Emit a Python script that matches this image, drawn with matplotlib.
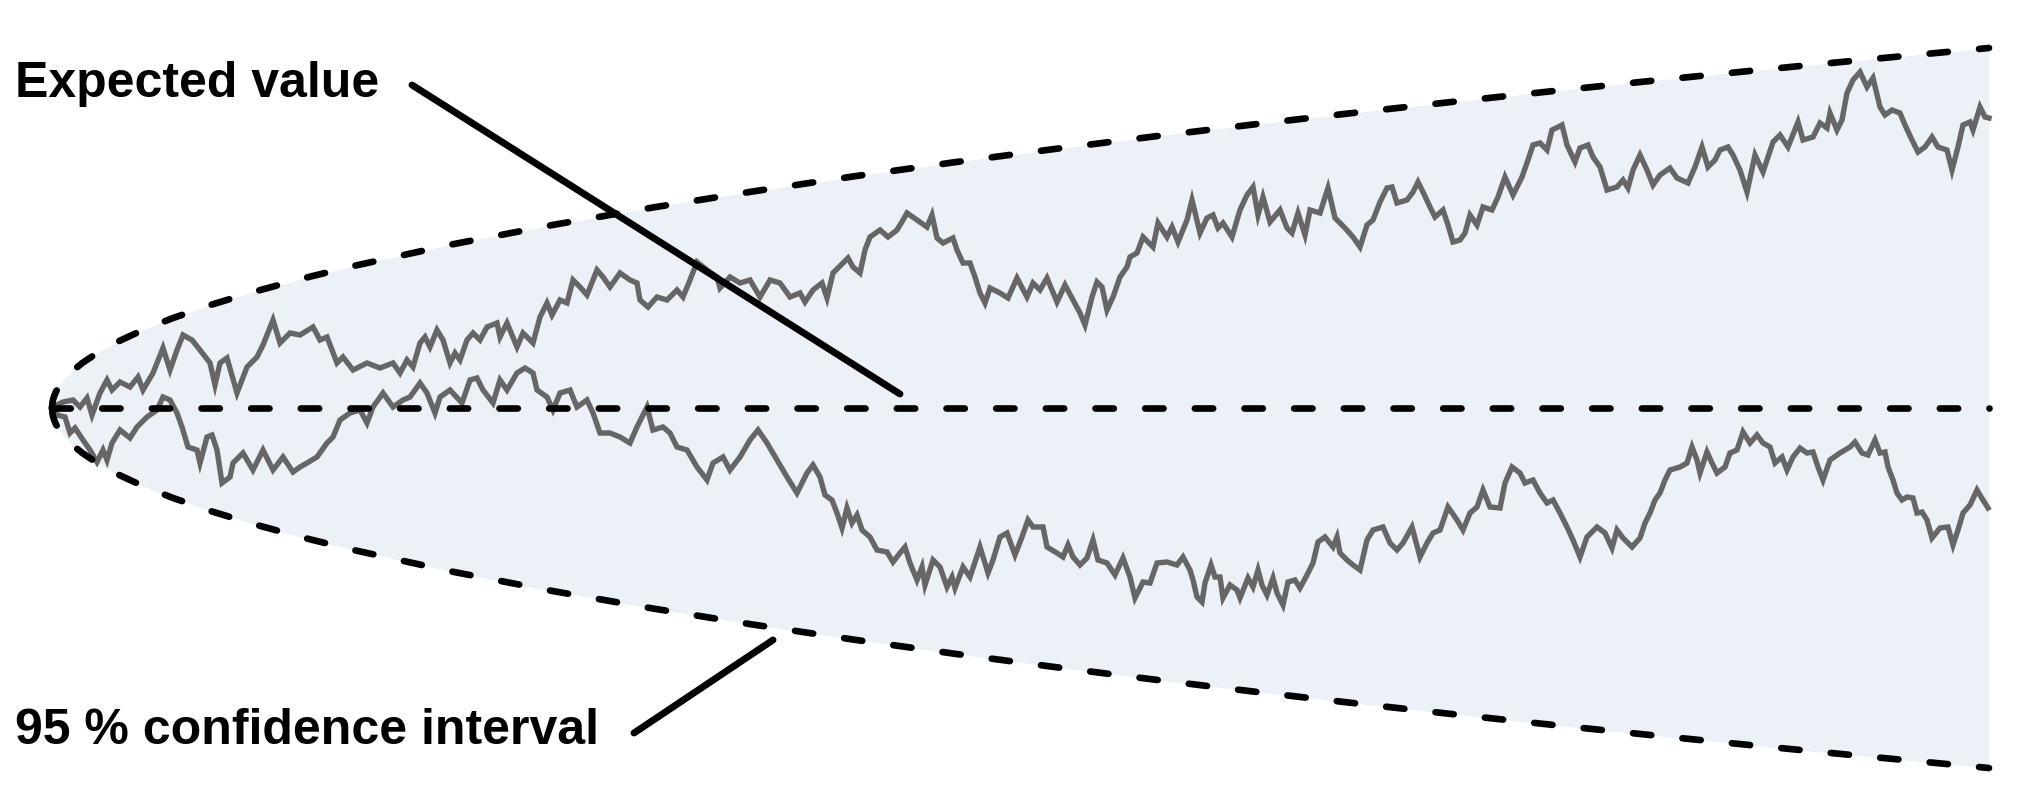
import matplotlib
matplotlib.use("Agg")
import matplotlib.pyplot as plt

# ---------------- data (time steps, value) ----------------
ci_t = [0, 0.5, 1, 2, 4, 7, 12, 20, 30, 45, 65, 90, 120, 160, 200, 250, 300, 400,
        500, 600, 700, 800, 900, 1000, 1100, 1200, 1300, 1400, 1500, 1600, 1700, 1800, 1937]
ci_upper = [0, 0.578, 0.818, 1.157, 1.636, 2.164, 2.834, 3.658, 4.480, 5.487, 6.595, 7.760,
            8.961, 10.347, 11.568, 12.934, 14.168, 16.360, 18.291, 20.037, 21.642, 23.137,
            24.540, 25.868, 27.130, 28.336, 29.493, 30.607, 31.681, 32.720, 33.727, 34.705, 36.001]
ci_lower = [0, -0.578, -0.818, -1.157, -1.636, -2.164, -2.834, -3.658, -4.480, -5.487, -6.595, -7.760,
            -8.961, -10.347, -11.568, -12.934, -14.168, -16.360, -18.291, -20.037, -21.642, -23.137,
            -24.540, -25.868, -27.130, -28.336, -29.493, -30.607, -31.681, -32.720, -33.727, -34.705, -36.001]
expected_t = [0, 1937]
expected_v = [0, 0]

path_a_t = [0, 1, 11, 21, 28, 35, 40, 48, 55, 60, 68, 78, 86, 91, 101, 111, 118, 125, 131, 140,
            148, 158, 163, 168, 175, 185, 195, 205, 211, 221, 228, 238, 248, 261, 268, 275, 285,
            291, 301, 315, 328, 341, 348, 355, 361, 368, 373, 378, 385, 391, 398, 403, 408, 415,
            421, 428, 435, 445, 448, 455, 465, 471, 481, 488, 495, 500, 508, 515, 521, 528, 535,
            545, 551, 558, 568, 578, 585, 588, 596, 605, 615, 625, 631, 638, 645, 655, 665, 668,
            678, 688, 698, 708, 718, 728, 738, 748, 753, 761, 770, 775, 781, 791, 796, 801, 808,
            813, 818, 828, 836, 845, 851, 855, 865, 875, 880, 885, 891, 901, 905, 911, 918, 923,
            928, 933, 938, 948, 956, 965, 975, 981, 988, 995, 1005, 1013, 1021, 1028, 1033, 1040,
            1045, 1050, 1055, 1061, 1068, 1075, 1078, 1085, 1091, 1101, 1106, 1115, 1120, 1126,
            1135, 1140, 1148, 1155, 1161, 1166, 1171, 1180, 1188, 1195, 1201, 1206, 1211, 1218,
            1228, 1235, 1240, 1246, 1253, 1258, 1268, 1276, 1283, 1293, 1301, 1308, 1315, 1321,
            1328, 1335, 1340, 1345, 1355, 1361, 1366, 1371, 1378, 1383, 1391, 1396, 1401, 1408,
            1413, 1418, 1425, 1431, 1440, 1446, 1453, 1461, 1470, 1476, 1481, 1488, 1495, 1500,
            1510, 1515, 1523, 1528, 1536, 1541, 1548, 1555, 1565, 1571, 1576, 1581, 1588, 1595,
            1601, 1608, 1618, 1625, 1636, 1643, 1650, 1656, 1663, 1668, 1676, 1681, 1688, 1695,
            1703, 1711, 1716, 1721, 1728, 1736, 1746, 1751, 1761, 1768, 1775, 1778, 1785, 1790,
            1795, 1801, 1808, 1815, 1821, 1828, 1833, 1840, 1848, 1853, 1860, 1866, 1873, 1880,
            1886, 1895, 1900, 1906, 1911, 1918, 1921, 1928, 1933, 1937]
path_a_v = [0.0, 0.1, 0.6, 0.8, 0.1, 1.0, -0.7, 1.5, 2.8, 1.8, 2.6, 2.1, 3.1, 1.8, 3.5, 6.0, 3.8,
            5.8, 7.3, 6.8, 5.8, 4.5, 2.3, 4.5, 5.0, 1.5, 4.1, 5.1, 6.3, 8.8, 6.5, 7.5, 7.3, 8.1,
            6.8, 7.1, 4.5, 5.1, 3.8, 4.5, 4.0, 4.5, 3.5, 4.8, 4.1, 6.5, 7.1, 6.1, 7.8, 6.8, 4.5,
            5.5, 4.8, 6.8, 7.5, 6.8, 8.1, 8.5, 7.1, 8.5, 6.1, 7.5, 6.5, 9.1, 10.5, 9.3, 10.8,
            10.5, 12.8, 12.1, 11.3, 13.8, 13.1, 12.1, 13.5, 12.8, 12.5, 10.8, 10.1, 11.1, 10.8,
            11.8, 11.1, 12.8, 14.6, 13.8, 13.1, 12.0, 13.1, 12.5, 12.8, 11.1, 12.8, 12.5, 11.1,
            11.5, 10.6, 11.8, 12.5, 11.0, 13.5, 14.5, 15.0, 14.1, 13.5, 15.8, 17.1, 17.8, 17.1,
            17.8, 18.8, 19.5, 18.8, 18.1, 19.3, 17.0, 16.5, 17.0, 15.8, 14.5, 14.5, 13.1, 11.5,
            10.5, 12.0, 11.5, 11.0, 13.0, 11.1, 12.5, 11.8, 13.0, 10.6, 12.3, 10.8, 9.5, 8.3,
            11.1, 12.6, 12.1, 9.8, 11.1, 13.1, 14.1, 15.1, 15.5, 17.1, 16.1, 18.5, 17.1, 18.1,
            16.6, 18.8, 20.8, 17.5, 19.0, 19.3, 18.0, 18.5, 17.1, 19.8, 21.3, 22.1, 19.3, 21.1,
            18.6, 19.8, 18.0, 17.5, 19.5, 17.3, 19.8, 19.5, 22.0, 19.0, 18.0, 17.1, 16.1, 18.3,
            18.8, 20.6, 22.0, 22.1, 20.5, 20.8, 21.6, 22.6, 21.6, 20.1, 19.1, 19.8, 18.3, 16.6,
            16.8, 17.5, 19.3, 18.3, 20.1, 19.8, 21.1, 23.1, 21.3, 23.1, 24.8, 26.3, 26.5, 25.8,
            27.8, 28.3, 26.3, 24.6, 26.0, 26.3, 25.1, 24.1, 21.8, 22.1, 22.8, 22.0, 23.8, 25.3,
            23.8, 22.3, 23.3, 24.0, 23.0, 22.5, 24.1, 26.1, 24.1, 24.8, 25.8, 26.1, 25.3, 23.8,
            21.6, 25.3, 23.6, 25.1, 26.6, 27.3, 26.1, 28.6, 26.8, 27.1, 28.5, 28.0, 29.5, 27.8,
            28.8, 31.5, 32.8, 33.6, 32.1, 33.0, 30.1, 29.3, 29.8, 29.5, 28.3, 26.8, 25.6, 26.1,
            27.1, 26.1, 25.8, 23.8, 26.1, 28.3, 28.6, 27.8, 30.1, 29.1, 29.0]

path_b_t = [0, 5, 13, 18, 23, 31, 38, 45, 51, 55, 60, 68, 78, 85, 95, 105, 111, 118, 125, 130,
            136, 145, 148, 155, 160, 165, 170, 178, 181, 191, 201, 211, 221, 231, 241, 248, 255,
            265, 275, 281, 288, 298, 308, 315, 321, 331, 341, 351, 358, 368, 375, 383, 388, 398,
            410, 418, 425, 431, 441, 448, 455, 465, 473, 481, 485, 495, 501, 508, 518, 525, 535,
            541, 548, 558, 568, 578, 585, 595, 601, 611, 618, 625, 635, 645, 655, 661, 671, 678,
            688, 698, 706, 715, 725, 735, 745, 755, 761, 768, 773, 780, 785, 790, 795, 800, 805,
            810, 818, 825, 835, 841, 848, 853, 858, 865, 870, 873, 881, 888, 895, 900, 903, 911,
            918, 928, 936, 941, 948, 955, 963, 970, 976, 981, 991, 995, 1005, 1011, 1016, 1021,
            1028, 1035, 1041, 1046, 1055, 1063, 1071, 1078, 1083, 1091, 1098, 1105, 1115, 1125,
            1131, 1138, 1141, 1145, 1150, 1153, 1159, 1163, 1168, 1171, 1178, 1185, 1188, 1196,
            1201, 1206, 1210, 1215, 1221, 1225, 1231, 1236, 1243, 1248, 1255, 1261, 1266, 1273,
            1281, 1285, 1288, 1295, 1301, 1308, 1315, 1321, 1331, 1338, 1345, 1351, 1360, 1368,
            1375, 1381, 1388, 1396, 1405, 1411, 1418, 1425, 1431, 1438, 1448, 1453, 1460, 1468,
            1473, 1481, 1488, 1495, 1501, 1508, 1515, 1521, 1528, 1535, 1545, 1553, 1560, 1565,
            1571, 1580, 1588, 1593, 1598, 1603, 1608, 1613, 1618, 1628, 1635, 1640, 1645, 1648,
            1655, 1660, 1665, 1673, 1678, 1685, 1691, 1698, 1705, 1711, 1718, 1723, 1730, 1735,
            1741, 1748, 1755, 1761, 1766, 1771, 1778, 1788, 1798, 1803, 1810, 1816, 1823, 1828,
            1833, 1836, 1841, 1845, 1850, 1855, 1861, 1865, 1870, 1875, 1880, 1888, 1896, 1901,
            1906, 1911, 1918, 1925, 1931, 1936]
path_b_v = [0.0, -0.7, -0.9, -2.5, -2.0, -3.2, -4.2, -5.4, -4.2, -5.2, -3.5, -2.2, -3.0, -1.9,
            -0.9, -0.2, 1.1, 0.8, -0.5, -1.9, -3.9, -4.2, -5.5, -2.9, -2.7, -4.2, -7.5, -6.9,
            -5.5, -4.5, -6.2, -4.2, -6.2, -4.9, -6.4, -5.9, -5.5, -4.9, -3.5, -2.9, -1.2, -0.5,
            -0.2, -1.5, 0.1, 1.5, 0.1, 0.8, 1.1, 2.5, 1.5, -0.5, 1.1, 1.8, 0.5, 2.8, 3.0, 1.8,
            0.5, 2.8, 1.8, 3.5, 4.0, 3.5, 1.8, 1.1, -0.2, 1.5, 1.8, 0.1, 0.8, -0.5, -2.5, -2.5,
            -2.9, -3.5, -1.9, 0.1, -2.2, -1.9, -2.5, -3.9, -4.2, -5.9, -7.2, -5.5, -4.9, -6.2,
            -4.9, -3.2, -2.2, -3.5, -5.2, -6.9, -8.5, -6.5, -5.7, -6.9, -8.7, -9.2, -10.5, -12.0,
            -10.0, -11.5, -10.7, -12.2, -12.9, -14.2, -14.4, -15.4, -14.5, -13.9, -15.5, -17.2,
            -15.9, -17.7, -15.2, -15.9, -17.9, -16.9, -18.0, -15.9, -16.9, -13.9, -16.5, -15.2,
            -12.9, -12.5, -14.7, -12.9, -11.2, -11.9, -11.9, -13.9, -14.5, -14.9, -13.7, -14.9,
            -15.7, -15.0, -13.2, -15.2, -15.5, -16.7, -15.0, -16.9, -19.0, -17.4, -17.5, -15.5,
            -15.4, -15.7, -14.9, -16.2, -17.2, -18.9, -19.4, -17.5, -15.7, -16.9, -16.9, -19.0,
            -17.7, -18.2, -19.0, -17.0, -17.9, -16.2, -17.7, -18.7, -17.0, -18.5, -19.7, -17.4,
            -17.2, -18.0, -16.7, -15.5, -13.4, -12.9, -13.9, -12.9, -14.5, -15.2, -15.7, -16.2,
            -13.2, -12.2, -11.9, -13.5, -14.2, -13.5, -11.9, -14.9, -13.5, -12.5, -12.2, -9.9,
            -11.2, -12.2, -10.5, -9.9, -8.2, -9.9, -10.0, -7.5, -5.9, -6.5, -7.5, -7.2, -8.5,
            -9.5, -9.2, -10.5, -11.9, -13.2, -14.9, -12.9, -11.9, -12.5, -14.0, -12.2, -13.0,
            -13.9, -13.0, -11.5, -10.5, -9.2, -8.5, -7.2, -6.2, -5.9, -5.5, -3.9, -5.2, -6.5,
            -4.4, -5.5, -6.5, -5.9, -4.5, -4.2, -2.4, -3.5, -2.7, -3.5, -3.9, -5.5, -4.9, -6.2,
            -4.9, -4.0, -4.5, -4.4, -5.9, -7.2, -5.2, -4.5, -3.9, -3.4, -4.5, -4.7, -3.2, -4.5,
            -4.4, -5.9, -7.2, -8.5, -9.2, -8.9, -9.0, -10.5, -10.4, -11.2, -13.0, -12.0, -11.9,
            -13.7, -12.2, -10.5, -9.7, -8.2, -9.2, -10.0]

label_expected = "Expected value"
label_ci = "95 % confidence interval"

# ---------------- styling ----------------
FILL = "#ECF1F8"
PATH = "#666666"
DASH_LW = 4.8
dash_pattern = (2.75, 4.7)

fig = plt.figure(figsize=(20.3, 8.08), dpi=100)
ax = fig.add_axes([0, 0, 1, 1])
ax.set_xlim(-52, 1978)
ax.set_ylim(-40.0, 40.8)
ax.axis("off")

ax.fill_between(ci_t, ci_lower, ci_upper, color=FILL, lw=0, zorder=1)

for tt, vv in ((path_a_t, path_a_v), (path_b_t, path_b_v)):
    ax.plot(tt, vv, color=PATH, lw=3.9, solid_joinstyle="miter", zorder=2)

for tt, vv in ((ci_t, ci_upper), (ci_t, ci_lower), (expected_t, expected_v)):
    ln, = ax.plot(tt, vv, color="black", lw=DASH_LW, zorder=3,
                  dash_capstyle="round")
    ln.set_dashes(dash_pattern)

font = dict(family=["Liberation Sans", "DejaVu Sans"], weight="bold", size=36)
ax.text(-37, 31.1, label_expected, ha="left", va="baseline", **font)
ax.text(-37, -33.6, label_ci, ha="left", va="baseline", **font)

lead = dict(arrowstyle="-", lw=5.0, color="black", shrinkA=0, shrinkB=0,
            capstyle="round")
ax.annotate("", xy=(848, 1.4), xytext=(360, 32.3), arrowprops=lead, zorder=4)
ax.annotate("", xy=(721, -23.2), xytext=(582, -32.5), arrowprops=lead, zorder=4)

fig.savefig("out.png", dpi=100)
